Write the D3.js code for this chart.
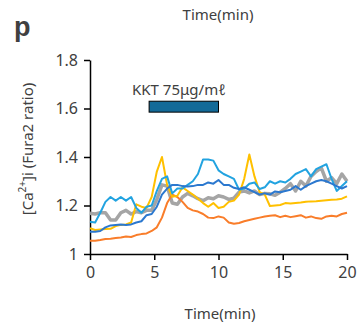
<!DOCTYPE html>
<html>
<head>
<meta charset="utf-8">
<script src="https://cdn.jsdelivr.net/npm/d3@7"></script>
<style>
  body { margin: 0; background: #fff; }
  text { font-family: "Noto Sans", "Open Sans", sans-serif; fill: #404040; }
</style>
</head>
<body>
<div id="chart"></div>
<script>
// time points (min), one every 0.4 min
const times = d3.range(0, 20.01, 0.4).map(t => +t.toFixed(1));

const orange = [1.055, 1.055, 1.058, 1.062, 1.063, 1.066, 1.068, 1.072, 1.07, 1.078,
  1.082, 1.085, 1.095, 1.11, 1.15, 1.21, 1.245, 1.235, 1.215, 1.19,
  1.18, 1.175, 1.165, 1.15, 1.148, 1.155, 1.15, 1.13, 1.125, 1.128,
  1.135, 1.14, 1.145, 1.15, 1.155, 1.158, 1.16, 1.152, 1.158, 1.152,
  1.156, 1.16, 1.15, 1.155, 1.148, 1.145, 1.155, 1.158, 1.155, 1.165, 1.17];

const yellow = [1.106, 1.099, 1.101, 1.103, 1.104, 1.115, 1.12, 1.122, 1.13, 1.205,
  1.195, 1.19, 1.235, 1.34, 1.40, 1.285, 1.236, 1.24, 1.275, 1.26,
  1.245, 1.228, 1.21, 1.195, 1.21, 1.19, 1.195, 1.215, 1.22, 1.245,
  1.31, 1.41, 1.32, 1.255, 1.245, 1.198, 1.2, 1.202, 1.21, 1.208,
  1.21, 1.212, 1.215, 1.217, 1.218, 1.22, 1.222, 1.224, 1.225, 1.228, 1.238];

const lightBlue = [1.133, 1.13, 1.17, 1.215, 1.235, 1.22, 1.235, 1.22, 1.235, 1.19,
  1.17, 1.195, 1.2, 1.26, 1.31, 1.32, 1.25, 1.27, 1.27, 1.285,
  1.3, 1.33, 1.39, 1.39, 1.385, 1.345, 1.33, 1.32, 1.31, 1.265,
  1.27, 1.29, 1.295, 1.268, 1.275, 1.3, 1.29, 1.3, 1.295, 1.31,
  1.33, 1.34, 1.35, 1.32, 1.35, 1.36, 1.37, 1.31, 1.26, 1.28, 1.3];

const darkBlue = [1.092, 1.092, 1.095, 1.11, 1.118, 1.12, 1.122, 1.12, 1.122, 1.13,
  1.135, 1.16, 1.165, 1.195, 1.245, 1.27, 1.285, 1.285, 1.28, 1.278,
  1.28, 1.285, 1.285, 1.295, 1.29, 1.305, 1.285, 1.285, 1.273, 1.268,
  1.275, 1.265, 1.255, 1.245, 1.25, 1.245, 1.258, 1.255, 1.26, 1.265,
  1.28, 1.265, 1.28, 1.29, 1.3, 1.305, 1.3, 1.29, 1.28, 1.27, 1.28];

const gray = [1.168, 1.165, 1.17, 1.17, 1.14, 1.14, 1.17, 1.18, 1.165, 1.175,
  1.17, 1.18, 1.18, 1.225, 1.285, 1.28, 1.21, 1.205, 1.235, 1.25,
  1.24, 1.228, 1.22, 1.232, 1.228, 1.24, 1.235, 1.225, 1.23, 1.255,
  1.26, 1.252, 1.26, 1.245, 1.25, 1.248, 1.242, 1.255, 1.27, 1.29,
  1.26, 1.3, 1.28, 1.32, 1.34, 1.355, 1.3, 1.315, 1.29, 1.33, 1.3];

const xTicks = [0, 5, 10, 15, 20];
const yTicks = [1, 1.2, 1.4, 1.6, 1.8];
const drugPeriod = [4.6, 10];
const drugLabel = "KKT 75\u03bcg/m\u2113";

const series = [
  { name: "gray", values: gray, color: "#a5a5a5", width: 3.5 },
  { name: "orange", values: orange, color: "#f97d2a", width: 2 },
  { name: "yellow", values: yellow, color: "#ffc000", width: 2 },
  { name: "lightBlue", values: lightBlue, color: "#22a3e0", width: 2 },
  { name: "darkBlue", values: darkBlue, color: "#2b78cf", width: 2 }
];

(function() {
  const width = 358;
  const height = 326;
  const margin = { left: 90, right: 11, top: 60, bottom: 72 };

  const svg = d3.select("#chart")
    .append("svg")
    .attr("width", width)
    .attr("height", height);

  const x = d3.scaleLinear().domain([0, 20]).range([margin.left, width - margin.right]);
  const y = d3.scaleLinear().domain([1, 1.8]).range([height - margin.bottom, margin.top]);

  // axes
  const xAxis = svg.append("g")
    .attr("transform", `translate(0,${y(1)})`)
    .call(d3.axisBottom(x).tickValues(xTicks).tickSize(6).tickSizeOuter(0).tickPadding(7));
  const yAxis = svg.append("g")
    .attr("transform", `translate(${x(0)},0)`)
    .call(d3.axisLeft(y).tickValues(yTicks).tickSize(6).tickSizeOuter(0).tickPadding(6)
      .tickFormat(d => d === 1 ? "1" : d3.format(".1f")(d)));

  [xAxis, yAxis].forEach(a => {
    a.select(".domain").attr("stroke", "#000").attr("stroke-width", 1.5);
    a.selectAll(".tick line").attr("stroke", "#000").attr("stroke-width", 1.5);
    a.selectAll(".tick text").style("font-size", "16px").attr("fill", "#404040");
  });

  // lines
  const line = d3.line()
    .x((d, i) => x(times[i]))
    .y(d => y(d));

  series.forEach(s => {
    svg.append("path")
      .datum(s.values)
      .attr("fill", "none")
      .attr("stroke", s.color)
      .attr("stroke-width", s.width)
      .attr("stroke-linejoin", "round")
      .attr("d", line);
  });

  // drug application bar
  svg.append("rect")
    .attr("x", x(drugPeriod[0]))
    .attr("y", y(1.63))
    .attr("width", x(drugPeriod[1]) - x(drugPeriod[0]))
    .attr("height", y(1.585) - y(1.63))
    .attr("fill", "#136a98")
    .attr("stroke", "#000")
    .attr("stroke-width", 1);

  svg.append("text")
    .attr("x", 132)
    .attr("y", 95)
    .style("font-size", "15px")
    .attr("fill", "#333")
    .text(drugLabel);

  // titles
  svg.append("text")
    .attr("x", 220)
    .attr("y", 319)
    .attr("text-anchor", "middle")
    .style("font-size", "15px")
    .text("Time(min)");

  svg.append("text")
    .attr("x", 218)
    .attr("y", 20)
    .attr("text-anchor", "middle")
    .style("font-size", "15px")
    .text("Time(min)");

  svg.append("text")
    .attr("x", 14)
    .attr("y", 36)
    .style("font-size", "27px")
    .style("font-weight", "bold")
    .style("font-family", "Arial, 'Liberation Sans', sans-serif")
    .attr("fill", "#000")
    .text("p");

  const yl = svg.append("text")
    .attr("transform", `translate(33,${(y(1) + y(1.8)) / 2 - 8}) rotate(-90)`)
    .attr("text-anchor", "middle")
    .style("font-size", "15px");
  yl.append("tspan").text("[Ca");
  yl.append("tspan").attr("baseline-shift", "super").style("font-size", "10px").text("2+");
  yl.append("tspan").text("]i (Fura2 ratio)");
})();
</script>
</body>
</html>
